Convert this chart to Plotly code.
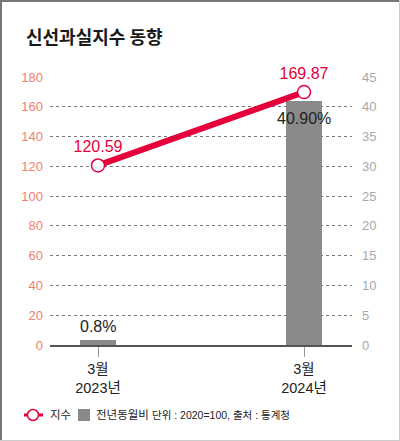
import plotly.graph_objects as go

categories = ["3월<br>2023년", "3월<br>2024년"]
index_values = [120.59, 169.87]
yoy_values = [0.8, 40.9]
index_labels = ["120.59", "169.87"]
yoy_labels = ["0.8%", "40.90%"]
left_ticks = [0, 20, 40, 60, 80, 100, 120, 140, 160, 180]
right_ticks = [0, 5, 10, 15, 20, 25, 30, 35, 40, 45]
legend_names = ["지수", "전년동월비"]
source_text = "단위 : 2020=100, 출처 : 통계청"
title_text = "신선과실지수 동향"

RED = "#e5003b"
GRAY_BAR = "#8a8a8a"
FONT = "Liberation Sans, Noto Sans CJK KR, sans-serif"

fig = go.Figure()

fig.add_trace(go.Bar(
    x=categories, y=yoy_values, name=legend_names[1],
    marker=dict(color=GRAY_BAR, line=dict(width=0)),
    width=0.17,
    cliponaxis=False, showlegend=False, hoverinfo="skip",
    yaxis="y",
))

fig.add_trace(go.Scatter(
    x=categories, y=index_values, name=legend_names[0],
    mode="lines+markers+text",
    line=dict(color=RED, width=6),
    marker=dict(size=13, color="white", line=dict(color=RED, width=1.5)),
    text=index_labels, textposition="top center",
    textfont=dict(size=16, color=RED, family=FONT),
    cliponaxis=False, showlegend=False, hoverinfo="skip",
    yaxis="y2",
))

W0, W1, H0, H1 = 50, 352, 77, 345
pw, ph = W1 - W0, H1 - H0
def px(xp):
    return (xp - W0) / pw
def py(yp):
    return (H1 - yp) / ph

LY = 415
legend_font = dict(size=11.5, color="#222222", family=FONT)
value_font = dict(size=16, color="#222222", family=FONT)

bar_annotations = [
    dict(x=categories[0], y=yoy_values[0], xref="x", yref="y", text=yoy_labels[0],
         showarrow=False, yanchor="bottom", yshift=3, font=value_font),
    dict(x=categories[1], y=yoy_values[1], xref="x", yref="y", text=yoy_labels[1],
         showarrow=False, yanchor="top", yshift=-7, font=value_font),
]

fig.update_layout(
    width=400, height=441,
    margin=dict(l=W0, r=400 - W1, t=H0, b=441 - H1, autoexpand=False),
    paper_bgcolor="white", plot_bgcolor="white",
    font=dict(family=FONT, color="#222222"),
    bargap=0,
    showlegend=False,
    hovermode=False,
    xaxis=dict(
        type="category", range=[-0.233, 1.233],
        showgrid=False, showline=True, linecolor="#555555", linewidth=1.5,
        ticks="outside", ticklen=10, tickcolor="#999999", tickwidth=1,
        tickfont=dict(size=14.5, color="#222222", family=FONT),
        zeroline=False, fixedrange=True,
    ),
    yaxis=dict(
        side="right", range=[0, 45], tickvals=right_ticks,
        showgrid=True, gridcolor="#777777", griddash="dot", gridwidth=1,
        zeroline=False, showline=False, ticks="",
        tickfont=dict(size=13, color="#a8a8a8", family=FONT),
        ticklabelstandoff=9, fixedrange=True,
    ),
    yaxis2=dict(
        side="left", overlaying="y", range=[0, 180], tickvals=left_ticks,
        showgrid=False, zeroline=False, showline=False, ticks="",
        tickfont=dict(size=13, color="#f08272", family=FONT),
        ticklabelstandoff=6, fixedrange=True,
    ),
    annotations=bar_annotations + [
        dict(text="<b>" + title_text + "</b>", xref="paper", yref="paper",
             x=px(24), y=py(36), xanchor="left", yanchor="middle", showarrow=False,
             font=dict(size=18, color="#1a1a1a", family="Noto Sans CJK KR")),
        dict(text=legend_names[0], xref="paper", yref="paper",
             x=px(48), y=py(LY), xanchor="left", yanchor="middle", showarrow=False,
             font=legend_font),
        dict(text=legend_names[1], xref="paper", yref="paper",
             x=px(94), y=py(LY), xanchor="left", yanchor="middle", showarrow=False,
             font=legend_font),
        dict(text=source_text, xref="paper", yref="paper",
             x=px(150), y=py(LY), xanchor="left", yanchor="middle", showarrow=False,
             font=dict(size=10.5, color="#222222", family=FONT)),
    ],
    shapes=[
        # legend keys
        dict(type="line", xref="paper", yref="paper", x0=px(24), x1=px(43), y0=py(LY), y1=py(LY),
             line=dict(color=RED, width=3)),
        dict(type="circle", xref="paper", yref="paper", x0=px(27.5), x1=px(38.5), y0=py(LY - 5.5), y1=py(LY + 5.5),
             fillcolor="white", line=dict(color=RED, width=1.5)),
        dict(type="rect", xref="paper", yref="paper", x0=px(78), x1=px(90), y0=py(LY - 6), y1=py(LY + 6),
             fillcolor=GRAY_BAR, line=dict(width=0)),
        # frame
        dict(type="line", xref="paper", yref="paper", x0=px(1), x1=px(1), y0=py(0), y1=py(441),
             line=dict(color="#777777", width=2)),
        dict(type="line", xref="paper", yref="paper", x0=px(0), x1=px(400), y0=py(1), y1=py(1),
             line=dict(color="#777777", width=2)),
        dict(type="line", xref="paper", yref="paper", x0=px(399.5), x1=px(399.5), y0=py(0), y1=py(441),
             line=dict(color="#cccccc", width=1)),
        dict(type="line", xref="paper", yref="paper", x0=px(0), x1=px(400), y0=py(440.5), y1=py(440.5),
             line=dict(color="#cccccc", width=1)),
    ],
)

fig.write_html("out.html", config={"displayModeBar": False},
               post_script="document.body.style.margin='0';document.body.style.overflow='hidden';")
